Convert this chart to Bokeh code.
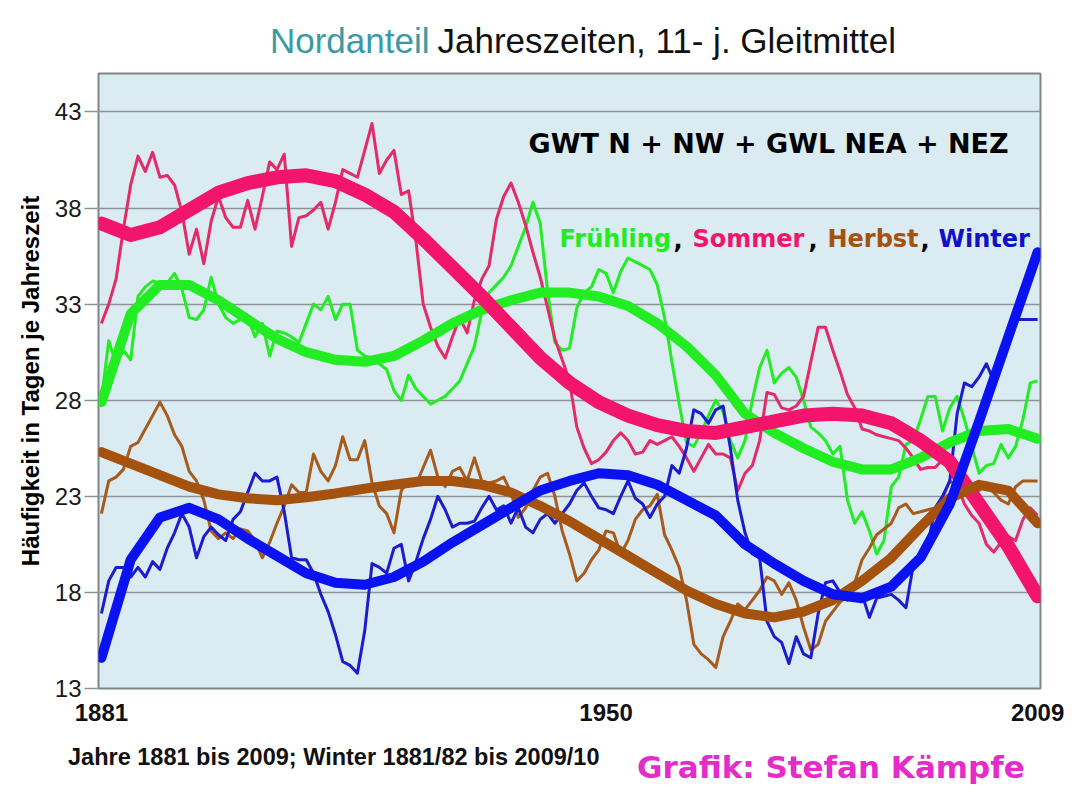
from bokeh.plotting import figure
from bokeh.layouts import column
from bokeh.models import Range1d, FixedTicker, Label, Div
from bokeh.embed import file_html
from bokeh.resources import INLINE

# ---------------- data (11-year moving averages) -------------
years = list(range(1881, 2010))

fruehling = [
    28.0, 31.1, 29.9, 30.6, 30.1, 33.4, 33.9, 34.2, 34.1, 34.1,
    34.6, 33.8, 32.3, 32.2, 32.7, 34.4, 33.0, 32.3, 32.0, 32.2,
    32.3, 31.3, 32.0, 30.3, 31.6, 31.5, 31.3, 31.0, 32.0, 33.0,
    32.7, 33.4, 32.2, 33.0, 33.0, 30.6, 30.3, 30.2, 29.9, 29.6,
    28.5, 28.0, 29.3, 28.6, 28.2, 27.8, 28.0, 28.2, 28.6, 29.0,
    29.9, 30.8, 32.6, 33.6, 34.0, 34.4, 35.0, 36.0, 37.0, 38.3,
    37.2, 33.7, 31.0, 30.6, 30.7, 32.8, 33.6, 33.9, 34.8, 34.6,
    33.6, 34.7, 35.4, 35.2, 35.0, 34.8, 34.0, 32.3, 30.0, 27.8,
    25.8, 25.6, 26.3, 27.2, 28.0, 27.4, 25.9, 25.0, 25.9, 28.0,
    29.7, 30.6, 28.9, 29.4, 29.7, 29.2, 28.0, 26.6, 26.3, 25.9,
    25.2, 25.6, 22.8, 21.6, 22.2, 21.2, 20.0, 20.7, 23.5, 24.0,
    25.7, 25.9, 27.0, 28.2, 28.2, 26.4, 27.6, 28.2, 27.0, 25.6,
    24.2, 24.6, 24.7, 25.7, 25.0, 25.6, 27.0, 28.9, 29.0,
]

sommer = [
    32.0, 33.0, 34.3, 36.9, 39.2, 40.7, 39.9, 40.9, 39.6, 39.7,
    39.2, 37.8, 35.6, 36.9, 35.1, 37.3, 38.6, 37.5, 37.0, 37.0,
    38.4, 36.9, 38.6, 40.4, 40.0, 40.8, 36.0, 37.5, 37.6, 37.9,
    38.3, 36.9, 38.3, 40.0, 39.8, 39.6, 41.0, 42.4, 39.8, 40.5,
    41.0, 38.7, 38.9, 36.3, 33.0, 31.8, 30.8, 30.2, 31.3, 32.3,
    31.5, 33.2, 34.3, 35.0, 37.4, 38.6, 39.3, 38.3, 37.1, 35.7,
    34.4, 32.8, 31.2, 30.1, 29.0, 26.6, 25.5, 24.7, 24.9, 25.3,
    25.9, 26.3, 25.9, 25.2, 25.3, 25.9, 25.7, 25.9, 26.1, 25.6,
    25.0, 24.3, 25.0, 25.7, 25.2, 25.2, 25.0, 23.3, 24.2, 24.6,
    25.9, 28.4, 28.3, 27.6, 27.5, 27.7, 28.2, 30.0, 31.8, 31.8,
    30.6, 29.5, 28.3, 27.6, 26.5, 26.4, 26.2, 26.1, 26.0, 25.9,
    25.5, 25.0, 24.4, 24.5, 24.5, 24.9, 24.3, 23.6, 22.6, 22.0,
    21.6, 20.5, 20.1, 20.6, 20.9, 20.7, 21.8, 22.4, 22.0,
]

herbst = [
    22.1, 23.8, 24.0, 24.4, 25.6, 25.8, 26.5, 27.2, 27.9, 27.2,
    26.2, 25.6, 24.3, 23.8, 22.8, 21.2, 20.8, 21.1, 20.8, 21.3,
    21.2, 20.7, 19.8, 20.6, 21.6, 22.5, 23.6, 23.2, 23.2, 25.2,
    24.3, 23.8, 24.6, 26.1, 24.9, 24.9, 25.9, 23.7, 22.5, 22.1,
    21.1, 23.3, 23.8, 23.6, 24.5, 25.4, 24.0, 23.5, 24.3, 24.5,
    23.8, 25.0, 23.8, 23.7, 23.8, 24.0, 23.2, 21.9, 22.4, 23.3,
    24.0, 24.2, 23.0, 21.2, 20.0, 18.6, 19.0, 19.7, 20.2, 21.2,
    21.1, 20.0, 20.7, 21.8, 22.3, 22.5, 23.1, 21.0, 20.2, 19.3,
    17.6, 15.3, 14.8, 14.5, 14.1, 15.7, 16.5, 17.4, 17.1, 17.6,
    18.1, 18.8, 18.6, 17.9, 18.5, 17.6, 16.2, 15.0, 15.3, 16.5,
    17.0, 17.5, 17.8, 18.5, 19.7, 20.3, 21.0, 21.3, 21.6, 22.4,
    22.6, 22.1, 22.2, 22.3, 22.4, 22.9, 23.8, 23.5, 23.5, 23.4,
    23.3, 23.7, 23.2, 22.8, 22.6, 23.5, 23.8, 23.8, 23.8,
]

winter = [
    16.9, 18.6, 19.3, 19.3, 18.8, 19.3, 18.8, 19.6, 19.2, 20.3,
    21.1, 22.1, 21.4, 19.8, 20.9, 21.4, 21.0, 20.7, 21.8, 22.2,
    23.2, 24.2, 23.8, 23.8, 24.0, 22.2, 19.8, 19.7, 19.7, 19.0,
    17.9, 17.0, 15.8, 14.4, 14.2, 13.8, 16.0, 19.5, 19.3, 19.0,
    20.3, 20.5, 18.6, 19.6, 20.8, 21.8, 23.0, 22.3, 21.4, 21.6,
    21.6, 21.7, 22.4, 23.0, 22.3, 22.5, 21.6, 22.4, 21.4, 21.1,
    21.8, 22.1, 21.6, 22.1, 22.6, 23.3, 23.7, 23.0, 22.4, 22.3,
    22.1, 23.0, 23.8, 22.9, 22.6, 21.9, 22.6, 23.0, 24.6, 24.2,
    25.5, 27.5, 27.3, 26.8, 27.5, 27.7, 25.5, 22.8, 21.1, 20.0,
    19.8, 16.5, 15.7, 15.4, 14.3, 15.7, 14.8, 14.6, 16.9, 18.5,
    18.6, 18.0, 17.6, 17.9, 17.9, 16.7, 17.7, 17.8, 17.9, 17.6,
    17.2, 19.4, 19.8, 20.5, 22.4, 23.0, 23.8, 27.3, 28.9, 28.7,
    29.2, 29.9, 29.0, 30.0, 31.5, 32.2, 32.2, 32.2, 32.2,
]

# polynomial trend curves, read every 4 years
trend_years = list(range(1881, 2010, 4))
trend_fruehling = [27.9, 32.5, 34.0, 34.0, 33.2, 32.2, 31.2, 30.5, 30.1, 30.0, 30.3,
                   31.1, 32.0, 32.7, 33.2, 33.6, 33.6, 33.4, 32.9, 32.0, 30.8, 29.3,
                   27.3, 26.3, 25.5, 24.8, 24.4, 24.4, 25.0, 25.8, 26.4, 26.5, 26.0]
trend_sommer = [37.2, 36.6, 37.0, 37.9, 38.8, 39.3, 39.6, 39.7, 39.4, 38.7, 37.8,
                36.4, 34.9, 33.4, 31.8, 30.2, 28.9, 27.9, 27.2, 26.7, 26.4, 26.3,
                26.6, 26.9, 27.2, 27.3, 27.2, 26.8, 25.9, 24.8, 22.6, 20.4, 17.8]
trend_herbst = [25.3, 24.7, 24.1, 23.5, 23.1, 22.9, 22.8, 22.95, 23.15, 23.4, 23.6,
                23.8, 23.8, 23.6, 23.2, 22.5, 21.7, 20.8, 19.9, 19.0, 18.1, 17.4,
                16.9, 16.7, 17.0, 17.6, 18.6, 19.8, 21.4, 22.9, 23.6, 23.3, 21.6]
trend_winter = [14.6, 19.7, 21.9, 22.4, 21.8, 20.8, 19.9, 19.0, 18.5, 18.4, 18.8,
                19.6, 20.6, 21.5, 22.4, 23.3, 23.8, 24.2, 24.1, 23.6, 22.8, 22.0,
                20.5, 19.5, 18.6, 17.9, 17.7, 18.3, 19.8, 22.6, 26.9, 31.3, 35.7]

x_ticks = [1881, 1950, 2009]
y_ticks = [13, 18, 23, 28, 33, 38, 43]

# ---------------- styling -------------------------------------------------------
W = 1068
FRAME_L, FRAME_R = 98, 1040
C_GREEN = "#22EC22"
C_PINK_THIN = "#E42A68"
C_PINK = "#F2156B"
C_BROWN_THIN = "#A85A1C"
C_BROWN = "#A5520F"
C_BLUE_THIN = "#1B1BD0"
C_BLUE = "#0A12F2"


def lab(fig, x, y, text, color="#000000", size="24px", font="DejaVu Sans", style="bold",
        align="left", baseline="alphabetic"):
    fig.add_layout(Label(x=x, y=y, text=text, text_color=color, text_font=font,
                         text_font_size=size, text_font_style=style,
                         text_align=align, text_baseline=baseline))


# ---- title strip (page y 0..68); its frame is aligned with the chart frame ----
TH = 68
top = figure(width=W, height=TH, output_backend="svg", toolbar_location=None, title=None,
             x_range=Range1d(FRAME_L, FRAME_R), y_range=Range1d(0, TH),
             x_axis_type=None, y_axis_type=None,
             min_border_left=FRAME_L, min_border_right=W - FRAME_R,
             min_border_top=0, min_border_bottom=0)
top.outline_line_color = None
top.background_fill_color = "white"
top.border_fill_color = "white"
top.xgrid.grid_line_color = None
top.ygrid.grid_line_color = None
lab(top, 429, 28, "Nordanteil", color="#3A9AA4", size="35px", font="Liberation Sans",
    style="normal", align="right")
lab(top, 437, 28, "Jahreszeiten, 11- j. Gleitmittel", color="#111111", size="35px",
    font="Liberation Sans", style="normal")

# ---- main chart (page y 68..740) ----
p = figure(width=W, height=672, output_backend="svg", toolbar_location=None, title=None,
           x_range=Range1d(1880.6, 2009.4), y_range=Range1d(13, 45),
           min_border_left=FRAME_L, min_border_right=W - FRAME_R, min_border_top=5,
           min_border_bottom=52)
p.background_fill_color = "#DAEBF1"
p.border_fill_color = "white"
p.outline_line_color = "#7f868a"
p.outline_line_width = 2

p.xgrid.grid_line_color = None
p.ygrid.grid_line_color = "#8d9397"
p.ygrid.grid_line_width = 1.5

p.xaxis.ticker = FixedTicker(ticks=x_ticks)
p.yaxis.ticker = FixedTicker(ticks=y_ticks)

p.xaxis.axis_line_color = None
p.xaxis.major_tick_line_color = None
p.xaxis.minor_tick_line_color = None
p.xaxis.major_label_text_font = "Liberation Sans"
p.xaxis.major_label_text_font_style = "bold"
p.xaxis.major_label_text_font_size = "24px"
p.xaxis.major_label_text_color = "#111111"
p.xaxis.major_label_standoff = 9

p.yaxis.axis_line_color = None
p.yaxis.minor_tick_line_color = None
p.yaxis.major_tick_line_color = "#8d9397"
p.yaxis.major_tick_line_width = 1.5
p.yaxis.major_tick_out = 14
p.yaxis.major_tick_in = 0
p.yaxis.major_label_text_font = "Liberation Sans"
p.yaxis.major_label_text_font_size = "24px"
p.yaxis.major_label_text_color = "#1a1a1a"
p.yaxis.major_label_standoff = 3
p.yaxis.axis_label = "Häufigkeit in Tagen je Jahreszeit"
p.yaxis.axis_label_text_font = "Liberation Sans"
p.yaxis.axis_label_text_font_style = "bold"
p.yaxis.axis_label_text_font_size = "24px"
p.yaxis.axis_label_text_color = "#000000"
p.yaxis.axis_label_standoff = 8

# thin lines (moving averages)
p.line(years, fruehling, line_width=3, color=C_GREEN, line_join="round")
p.line(years, sommer, line_width=3, color=C_PINK_THIN, line_join="round")
p.line(years, herbst, line_width=3, color=C_BROWN_THIN, line_join="round")
p.line(years, winter, line_width=3, color=C_BLUE_THIN, line_join="round")

# thick trend curves
p.line(trend_years, trend_fruehling, line_width=10, color=C_GREEN, line_join="round", line_cap="round")
p.line(trend_years, trend_sommer, line_width=14, color=C_PINK, line_join="round", line_cap="round")
p.line(trend_years, trend_herbst, line_width=10, color=C_BROWN, line_join="round", line_cap="round")
p.line(trend_years, trend_winter, line_width=10, color=C_BLUE, line_join="round", line_cap="round")

# inner headings (data coordinates of the chart)
lab(p, 1939.39, 41.36, "GWT N + NW + GWL NEA + NEZ", size="27px")
lab(p, 1943.63, 36.37, "Frühling", color=C_GREEN)
lab(p, 1959.22, 36.37, ",")
lab(p, 1961.81, 36.37, "Sommer", color=C_PINK)
lab(p, 1977.67, 36.37, ",")
lab(p, 1980.27, 36.37, "Herbst", color=C_BROWN)
lab(p, 1992.99, 36.37, ",")
lab(p, 1995.45, 36.37, "Winter", color="#1010C8")

# ---- notes strip (page y 740..790) ----
BH = 50
notes_html = (
    '<div style="position:relative;width:%dpx;height:%dpx;">' % (W, BH)
    + '<span style="position:absolute;left:68px;top:6px;white-space:nowrap;'
      "font-family:'Liberation Sans';font-weight:bold;font-size:23.5px;line-height:23.5px;"
      'color:#111111;">Jahre 1881 bis 2009; Winter 1881/82 bis 2009/10</span>'
    + '<span style="position:absolute;left:637px;top:12px;white-space:nowrap;'
      "font-family:'DejaVu Sans';font-weight:bold;font-size:31px;line-height:31px;"
      'color:#E52BC9;">Grafik: Stefan Kämpfe</span>'
    + '</div>'
)
bottom = Div(text=notes_html, width=W, height=BH, margin=0)

layout = column(top, p, bottom, spacing=0)
open("out.html", "w").write(file_html(layout, INLINE))
